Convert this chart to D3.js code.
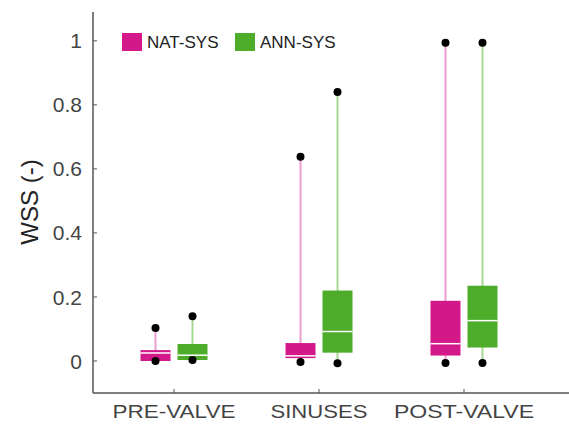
<!DOCTYPE html>
<html><head><meta charset="utf-8">
<script src="https://cdn.jsdelivr.net/npm/d3@7"></script>
<style>body{margin:0;background:#fff}svg{display:block}text{font-family:"Liberation Sans",Arial,sans-serif}</style>
</head><body>
<svg id="c" width="569" height="425"></svg>
<script>
const categories = ["PRE-VALVE", "SINUSES", "POST-VALVE"];
const seriesNames = ["NAT-SYS", "ANN-SYS"];
// [min, q1, median, q3, max] per category
const natSys = [
  [0.000, 0.000, 0.025, 0.034, 0.103],
  [-0.003, 0.009, 0.016, 0.056, 0.638],
  [-0.006, 0.017, 0.054, 0.188, 0.994]
];
const annSys = [
  [0.003, 0.003, 0.018, 0.053, 0.140],
  [-0.007, 0.026, 0.092, 0.220, 0.840],
  [-0.006, 0.042, 0.126, 0.235, 0.994]
];
const yTicks = [0, 0.2, 0.4, 0.6, 0.8, 1];
const yTickLabels = ["0", "0.2", "0.4", "0.6", "0.8", "1"];
const xLabelWidths = [123, 97, 140];

const svg = d3.select("#c");
const mLeft = 93, mBottom = 393, mTop = 12, mRight = 569;
const x = d3.scalePoint().domain(categories).range([174, 464]);
const y = d3.scaleLinear().domain([-0.1, 1.09]).range([mBottom, mTop]);
const colors = {"NAT-SYS": {fill: "#D3198A", whisker: "#EE9CCF"}, "ANN-SYS": {fill: "#4DAD2B", whisker: "#A6D892"}};
const offsets = {"NAT-SYS": -18.5, "ANN-SYS": 18.5};
const boxW = 30;
const axisColor = "#555";
const textColor = "#444";

// axes
svg.append("line").attr("x1", mLeft).attr("x2", mLeft).attr("y1", mTop).attr("y2", mBottom).attr("stroke", axisColor).attr("stroke-width", 1.5);
svg.append("line").attr("x1", mLeft).attr("x2", mRight).attr("y1", mBottom).attr("y2", mBottom).attr("stroke", axisColor).attr("stroke-width", 1.5);

yTicks.forEach((t, i) => {
  svg.append("line").attr("x1", mLeft).attr("x2", mLeft + 4).attr("y1", y(t)).attr("y2", y(t)).attr("stroke", axisColor);
  svg.append("text").attr("x", mLeft - 11).attr("y", y(t)).attr("dy", "0.36em").attr("text-anchor", "end")
    .attr("font-size", 21).attr("fill", textColor).text(yTickLabels[i]);
});
categories.forEach((c, i) => {
  svg.append("line").attr("x1", x(c)).attr("x2", x(c)).attr("y1", mBottom).attr("y2", mBottom - 4).attr("stroke", axisColor);
  svg.append("text").attr("x", x(c)).attr("y", 418).attr("text-anchor", "middle")
    .attr("font-size", 19).attr("fill", textColor)
    .attr("textLength", xLabelWidths[i]).attr("lengthAdjust", "spacingAndGlyphs").text(c);
});
svg.append("text").attr("transform", "translate(38,202) rotate(-90)").attr("text-anchor", "middle")
  .attr("font-size", 24).attr("fill", "#222").text("WSS (-)");

// boxes
const data = {"NAT-SYS": natSys, "ANN-SYS": annSys};
seriesNames.forEach(s => {
  data[s].forEach((d, i) => {
    const cx = x(categories[i]) + offsets[s];
    const [mn, q1, md, q3, mx] = d;
    svg.append("line").attr("x1", cx).attr("x2", cx).attr("y1", y(mx)).attr("y2", y(mn))
      .attr("stroke", colors[s].whisker).attr("stroke-width", 2);
    svg.append("rect").attr("x", cx - boxW / 2).attr("width", boxW).attr("y", y(q3)).attr("height", Math.max(1, y(q1) - y(q3)))
      .attr("fill", colors[s].fill);
    svg.append("line").attr("x1", cx - boxW / 2).attr("x2", cx + boxW / 2).attr("y1", y(md)).attr("y2", y(md))
      .attr("stroke", "#fff").attr("stroke-width", 1.5);
    [mn, mx].forEach(v => svg.append("circle").attr("cx", cx).attr("cy", y(v)).attr("r", 4).attr("fill", "#000"));
  });
});

// legend
const legX = [122, 235];
seriesNames.forEach((s, i) => {
  svg.append("rect").attr("x", legX[i]).attr("y", 33).attr("width", 20).attr("height", 18).attr("fill", colors[s].fill);
  svg.append("text").attr("x", legX[i] + 25).attr("y", 48).attr("font-size", 17).attr("fill", "#222").text(s);
});
</script>
</body></html>
